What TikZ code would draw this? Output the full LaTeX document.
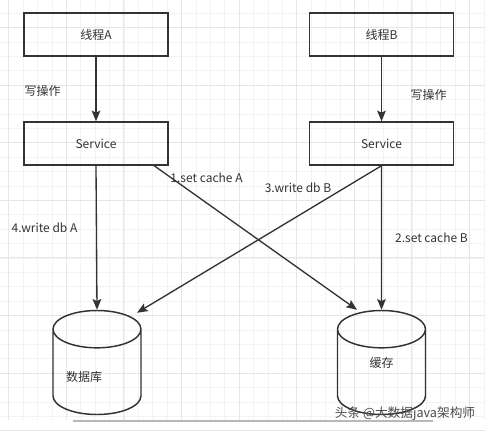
\documentclass[tikz,border=0pt]{standalone}
\usepackage{fontspec}
\setmainfont{Noto Sans CJK SC}
\usetikzlibrary{arrows.meta,shapes.geometric,calc}
\definecolor{ink}{HTML}{333333}
\definecolor{gridminor}{HTML}{F3F3F3}
\definecolor{gridmajor}{HTML}{E6E6E6}

\begin{document}
\begin{tikzpicture}[x=0.75pt,y=-0.75pt,
    box/.style={draw=ink,line width=1.1pt,minimum width=108pt,minimum height=32.25pt,
      font=\fontsize{9}{11}\selectfont,text=ink},
    store/.style={draw=ink,line width=1.1pt,cylinder,shape border rotate=90,aspect=4.2,
      minimum width=66pt,minimum height=78pt,anchor=shape center},
    lbl/.style={font=\fontsize{9}{11}\selectfont,text=ink,inner sep=0pt},
    flow/.style={draw=ink,line width=1pt,-{Stealth[length=8pt,width=6.5pt,inset=1.5pt]}}]
      \useasboundingbox (0,0) rectangle (485,432);
      \fill[white] (0,0) rectangle (485,432);
      \foreach \i in {0,...,33} \draw[gridminor,line width=0.4pt] ({8.6+14.4*\i},0) -- ({8.6+14.4*\i},420);
      \foreach \i in {0,...,28} \draw[gridminor,line width=0.4pt] (0,{13+14.4*\i}) -- (485,{13+14.4*\i});
      \foreach \i in {0,...,8} \draw[gridmajor,line width=0.5pt] ({8.6+57.6*\i},0) -- ({8.6+57.6*\i},420);
      \foreach \i in {0,...,7} \draw[gridmajor,line width=0.5pt] (0,{27.4+57.6*\i}) -- (485,{27.4+57.6*\i});
      \draw[black!28,line width=2.2pt] (73,421) -- (433,421);

      \node[box] (thrA) at (96,34.5) {线程A};
      \node[box] (thrB) at (381.5,34.5) {线程B};
      \node[box] (svcA) at (96,143.5) {Service};
      \node[box] (svcB) at (381.5,143.5) {Service};
      \node[store] (db) at (97,362.5) {};
      \node[store] (cache) at (381.5,362.5) {};
      \node[lbl] (dbtxt) at (84,377) {数据库};
      \node[lbl] (cachetxt) at (381.5,363) {缓存};

      \draw[flow] (thrA) -- (svcA);
      \draw[flow] (thrB) -- (svcB);
      \draw[flow] (svcA.south) -- (db.north);
      \draw[flow] (svcB.south) -- (cache.north);
      \draw[flow] ($(svcA.south)!0.8!(svcA.south east)$) -- ($(cache.north)+(-24.5,0)$);
      \draw[flow] (svcB.south) -- ($(db.north)+(40,3)$);

      \node[lbl] (wrA) at (42.5,91) {写操作};
      \node[lbl] (wrB) at (428.5,95) {写操作};
      \node[lbl] (st1) at (206.5,178) {1.set cache A};
      \node[lbl] (st2) at (431.5,238) {2.set cache B};
      \node[lbl] (st3) at (298,188) {3.write db B};
      \node[lbl] (st4) at (44.5,228) {4.write db A};
      \node[lbl,font=\fontsize{9.5}{11}\selectfont,text=black!70] (mark) at (405,414) {头条 @大数据java架构师};
    \end{tikzpicture}
\end{document}
